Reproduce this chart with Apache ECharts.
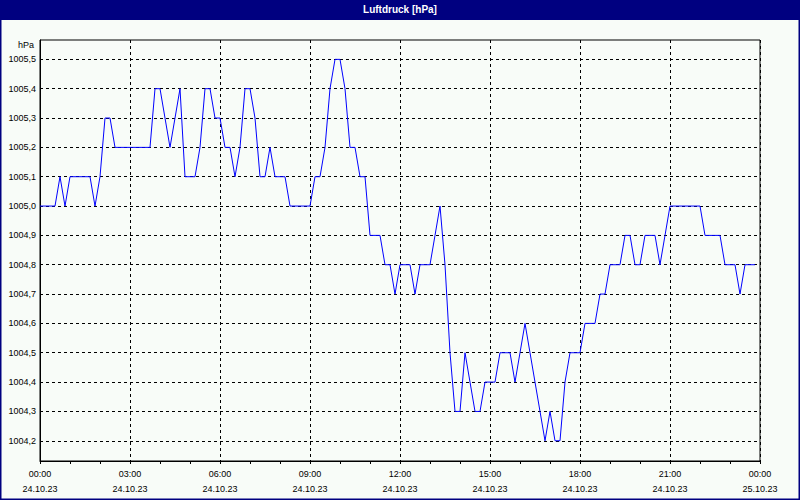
<!DOCTYPE html>
<html>
<head>
<meta charset="utf-8">
<script src="https://cdn.jsdelivr.net/npm/echarts@6/dist/echarts.min.js"></script>
<style>
html,body{margin:0;padding:0;background:#f8fcf8;}
#chart{width:800px;height:500px;}
</style>
</head>
<body>
<div id="chart"></div>
<script>
// Luftdruck samples every 10 minutes, 24.10.23 00:00 .. 23:50
var pressures = [
  1005.0,1005.0,1005.0,1005.0,1005.1,1005.0,1005.1,1005.1,1005.1,1005.1,
  1005.1,1005.0,1005.1,1005.3,1005.3,1005.2,1005.2,1005.2,1005.2,1005.2,
  1005.2,1005.2,1005.2,1005.4,1005.4,1005.3,1005.2,1005.3,1005.4,1005.1,
  1005.1,1005.1,1005.2,1005.4,1005.4,1005.3,1005.3,1005.2,1005.2,1005.1,
  1005.2,1005.4,1005.4,1005.3,1005.1,1005.1,1005.2,1005.1,1005.1,1005.1,
  1005.0,1005.0,1005.0,1005.0,1005.0,1005.1,1005.1,1005.2,1005.4,1005.5,
  1005.5,1005.4,1005.2,1005.2,1005.1,1005.1,1004.9,1004.9,1004.9,1004.8,
  1004.8,1004.7,1004.8,1004.8,1004.8,1004.7,1004.8,1004.8,1004.8,1004.9,
  1005.0,1004.8,1004.5,1004.3,1004.3,1004.5,1004.4,1004.3,1004.3,1004.4,
  1004.4,1004.4,1004.5,1004.5,1004.5,1004.4,1004.5,1004.6,1004.5,1004.4,
  1004.3,1004.2,1004.3,1004.2,1004.2,1004.4,1004.5,1004.5,1004.5,1004.6,
  1004.6,1004.6,1004.7,1004.7,1004.8,1004.8,1004.8,1004.9,1004.9,1004.8,
  1004.8,1004.9,1004.9,1004.9,1004.8,1004.9,1005.0,1005.0,1005.0,1005.0,
  1005.0,1005.0,1005.0,1004.9,1004.9,1004.9,1004.9,1004.8,1004.8,1004.8,
  1004.7,1004.8,1004.8,1004.8
];
var sampleStepMinutes = 10;
var yTicks = [1004.2,1004.3,1004.4,1004.5,1004.6,1004.7,1004.8,1004.9,1005.0,1005.1,1005.2,1005.3,1005.4,1005.5];
var xTickLabels = [
  "00:00\n24.10.23","03:00\n24.10.23","06:00\n24.10.23","09:00\n24.10.23",
  "12:00\n24.10.23","15:00\n24.10.23","18:00\n24.10.23","21:00\n24.10.23",
  "00:00\n25.10.23"
];
var titleText = "Luftdruck [hPa]";
var unitText = "hPa";

var seriesData = pressures.map(function (p, i) { return [i * sampleStepMinutes, p]; });

var FONT = "'Liberation Sans', Arial, sans-serif";
var chart = echarts.init(document.getElementById('chart'), null, {renderer: 'svg'});
chart.setOption({
  animation: false,
  backgroundColor: '#f8fcf8',
  title: {
    text: titleText,
    left: 'center',
    top: 4,
    padding: 0,
    textStyle: {color: '#ffffff', fontSize: 10, fontWeight: 'bold', fontFamily: "'Liberation Sans Narrow', 'Liberation Sans', Arial, sans-serif"}
  },
  graphic: [
    {type: 'rect', z: -1, shape: {x: 0, y: 0, width: 800, height: 20}, style: {fill: '#000080'}},
    {type: 'rect', z: -1, shape: {x: 0.75, y: 0.75, width: 798.5, height: 498.5}, style: {fill: 'none', stroke: '#000080', lineWidth: 1.5}}
  ],
  grid: {left: 40, right: 40, top: 40, bottom: 39, show: true, borderColor: '#000', borderWidth: 1, backgroundColor: 'transparent'},
  xAxis: {
    type: 'value',
    min: 0,
    max: 1440,
    interval: 180,
    axisLine: {show: true, lineStyle: {color: '#000', width: 1}},
    axisTick: {show: true, length: 3, lineStyle: {color: '#000'}},
    minorTick: {show: true, splitNumber: 3, length: 3, lineStyle: {color: '#000'}},
    splitLine: {show: true, lineStyle: {color: '#000', type: [3, 3], width: 1}},
    axisLabel: {
      color: '#000', fontSize: 9, fontFamily: FONT, lineHeight: 15, margin: 5,
      formatter: function (v) { return xTickLabels[Math.round(v / 180)]; }
    }
  },
  yAxis: {
    type: 'value',
    min: 1004.131,
    max: 1005.566,
    name: unitText,
    nameLocation: 'end',
    nameGap: -5,
    nameTextStyle: {color: '#000', fontSize: 9, fontFamily: FONT, align: 'right', verticalAlign: 'middle', padding: [0, 6, 0, 0]},
    axisLine: {show: true, lineStyle: {color: '#000', width: 1}},
    axisTick: {show: false, customValues: yTicks},
    splitLine: {show: true, lineStyle: {color: '#000', type: [3, 3], width: 1}},
    axisLabel: {
      customValues: yTicks,
      color: '#000', fontSize: 9, fontFamily: FONT, margin: 4,
      formatter: function (v) { return v.toFixed(1).replace('.', ','); }
    }
  },
  series: [{
    type: 'line',
    data: seriesData,
    showSymbol: false,
    symbol: 'none',
    lineStyle: {color: '#0000ff', width: 1},
    z: 5
  }]
});
</script>
</body>
</html>
